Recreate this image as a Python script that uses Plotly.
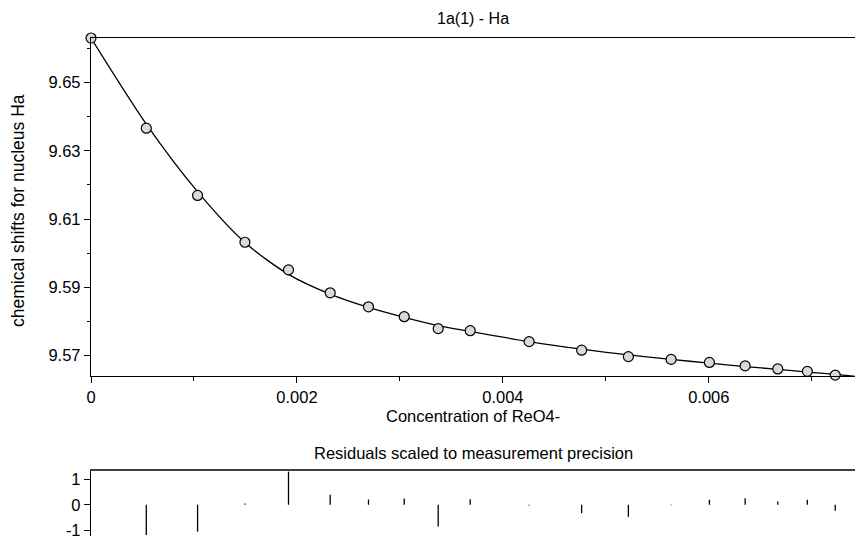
import plotly.graph_objects as go

# Titration data: concentration of ReO4- and observed shift of nucleus Ha
conc = [0.0, 0.000537, 0.001035, 0.001495, 0.001918, 0.002323, 0.002695, 0.003042,
        0.003372, 0.003683, 0.004255, 0.004765, 0.005219, 0.005634, 0.006006,
        0.006353, 0.00667, 0.006957, 0.007228]
shifts = [9.663, 9.6366, 9.6169, 9.6032, 9.5951, 9.5884, 9.5843, 9.5814, 9.5779,
          9.5773, 9.5741, 9.5716, 9.5697, 9.5689, 9.5680, 9.5670, 9.5661, 9.5654, 9.5643]

# Fitted binding curve, sampled at the measured concentrations plus the axis end
fit_x = conc + [0.00742]
fit_y = [9.663, 9.6378, 9.6180, 9.6031, 9.5938, 9.5880, 9.5841, 9.5812, 9.5788,
         9.5771, 9.5741, 9.5719, 9.5702, 9.5689, 9.5678, 9.5668, 9.5660, 9.5652,
         9.5645, 9.5639]

# Residuals scaled to measurement precision
residuals = [0.0, -1.18, -1.05, 0.05, 1.3, 0.39, 0.2, 0.24, -0.85, 0.21, -0.03,
             -0.33, -0.47, -0.02, 0.19, 0.25, 0.13, 0.19, -0.23]

res_ticks = [1, 0, -1]
res_tick_text = ["1", "0", "-1"]

W, H = 855, 539
LEFT = 91
FONT = "Liberation Sans, Arial, sans-serif"


def py(px):
    """Pixel row -> paper y."""
    return 1 - px / H


def px_x(px):
    """Pixel column -> paper x (paper spans the plotting width)."""
    return (px - LEFT) / (W - LEFT)


# vertical residual sticks as line segments from zero
stick_x, stick_y = [], []
for x, r in zip(conc, residuals):
    stick_x += [x, x, None]
    stick_y += [0, r, None]

fig = go.Figure()

fig.add_trace(go.Scatter(
    x=fit_x, y=fit_y, mode="lines",
    line=dict(color="black", width=1.3, shape="spline", smoothing=0.8),
    xaxis="x", yaxis="y", hoverinfo="skip", showlegend=False,
))
fig.add_trace(go.Scatter(
    x=conc, y=shifts, mode="markers",
    marker=dict(symbol="circle", size=10, color="#d9d9d9",
                line=dict(color="black", width=1.2)),
    xaxis="x", yaxis="y", cliponaxis=False, showlegend=False,
))
fig.add_trace(go.Scatter(
    x=stick_x, y=stick_y, mode="lines",
    line=dict(color="black", width=1.3),
    xaxis="x2", yaxis="y2", hoverinfo="skip", showlegend=False,
))

axis_font = dict(family=FONT, size=16.5, color="black")

fig.update_layout(
    width=W, height=H,
    margin=dict(l=LEFT, r=0, t=0, b=0, pad=0),
    paper_bgcolor="white", plot_bgcolor="white",
    font=dict(family=FONT, size=16.5, color="black"),
    showlegend=False,
    xaxis=dict(
        domain=[0, 1], anchor="y", range=[0, 0.00742],
        tick0=0, dtick=0.002, ticks="outside", ticklen=6, tickwidth=1.2,
        tickcolor="black", tickfont=axis_font,
        minor=dict(dtick=0.001, ticks="outside", ticklen=4, tickwidth=1, tickcolor="black"),
        showline=True, linecolor="black", linewidth=1.3, mirror=True,
        showgrid=False, zeroline=False,
    ),
    yaxis=dict(
        domain=[py(378), py(37.3)], anchor="x", range=[9.56398, 9.663],
        tick0=9.57, dtick=0.02, tickformat=".2f", ticks="outside", ticklen=6,
        tickwidth=1.2, tickcolor="black", tickfont=axis_font,
        minor=dict(dtick=0.01, ticks="outside", ticklen=3, tickwidth=1, tickcolor="black"),
        showline=True, linecolor="black", linewidth=1.3,
        showgrid=False, zeroline=False,
    ),
    xaxis2=dict(
        domain=[0, 1], anchor="y2", matches="x", side="top",
        showticklabels=False, ticks="",
        showline=True, linecolor="#404040", linewidth=2,
        showgrid=False, zeroline=False,
    ),
    yaxis2=dict(
        domain=[0, py(473.7)], anchor="x2", range=[-1.22, 1.31],
        tickvals=res_ticks, ticktext=res_tick_text,
        ticks="outside", ticklen=6, tickwidth=1.2, tickcolor="black",
        tickfont=axis_font, ticklabeloverflow="allow",
        showline=True, linecolor="black", linewidth=1.3,
        showgrid=False, zeroline=False,
    ),
    annotations=[
        dict(text="1a(1) - Ha", xref="paper", yref="paper", x=0.5, y=py(18),
             xanchor="center", yanchor="middle", showarrow=False,
             font=dict(family=FONT, size=16, color="black")),
        dict(text="Concentration of ReO4-", xref="paper", yref="paper",
             x=0.5, y=py(418.5), xanchor="center", yanchor="middle",
             showarrow=False, font=dict(family=FONT, size=16.5, color="black")),
        dict(text="Residuals scaled to measurement precision", xref="paper",
             yref="paper", x=0.5, y=py(455.5), xanchor="center",
             yanchor="middle", showarrow=False,
             font=dict(family=FONT, size=16.5, color="black")),
        dict(text="chemical shifts for nucleus Ha", xref="paper", yref="paper",
             x=px_x(18.5), y=py(211), xanchor="center", yanchor="middle",
             textangle=-90, showarrow=False,
             font=dict(family=FONT, size=17.5, color="black")),
    ],
)

fig.write_html("out.html")
